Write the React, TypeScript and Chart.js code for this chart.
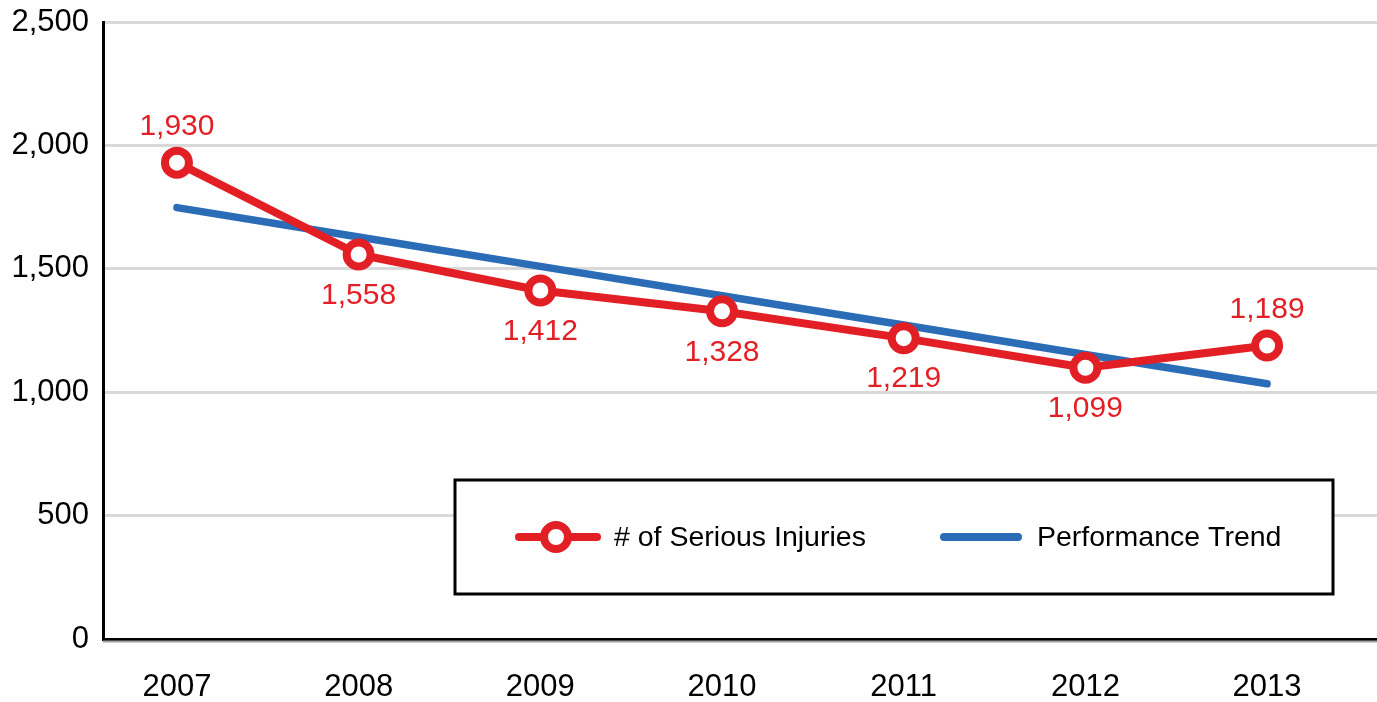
import React, { useEffect, useRef } from "react";
import { Chart, registerables } from "chart.js";

Chart.register(...registerables);

const years = ["2007", "2008", "2009", "2010", "2011", "2012", "2013"];
const injuries = [1930, 1558, 1412, 1328, 1219, 1099, 1189];
const trend = [1748, 1629, 1510, 1391, 1272, 1153, 1034];
const seriesNames = ["# of Serious Injuries", "Performance Trend"];

const RED = "#e31f26";
const BLUE = "#2a6cb6";
const FONT = "'Liberation Sans', Arial, Helvetica, sans-serif";
const AXIS_FS = 31;
const LABEL_FS = 30;
const LEGEND_FS = 28.5;

const valueLabels = {
  id: "valueLabels",
  afterDatasetsDraw(chart: any) {
    const ctx = chart.ctx;
    const meta = chart.getDatasetMeta(0);
    ctx.save();
    ctx.font = `${LABEL_FS}px ${FONT}`;
    ctx.fillStyle = RED;
    ctx.textAlign = "center";
    ctx.textBaseline = "middle";
    meta.data.forEach((pt: any, i: number) => {
      const above = injuries[i] > trend[i];
      const y = above ? pt.y - 36 : pt.y + 41;
      ctx.fillText(injuries[i].toLocaleString("en-US"), pt.x, y);
    });
    ctx.restore();
  },
};

const boxLegend = {
  id: "boxLegend",
  afterDraw(chart: any) {
    const ctx = chart.ctx;
    const a = chart.chartArea;
    ctx.save();
    // bottom axis shadow
    ctx.strokeStyle = "#a0a0a0";
    ctx.lineWidth = 2;
    ctx.beginPath();
    ctx.moveTo(a.left, a.bottom + 2.5);
    ctx.lineTo(a.right, a.bottom + 2.5);
    ctx.stroke();

    const left = a.left + 352;
    const top = a.top + 458;
    const right = a.right - 44;
    const bottom = a.top + 572;
    ctx.fillStyle = "#ffffff";
    ctx.fillRect(left, top, right - left, bottom - top);
    ctx.strokeStyle = "#000000";
    ctx.lineWidth = 3;
    ctx.strokeRect(left, top, right - left, bottom - top);

    const cy = (top + bottom) / 2;
    ctx.lineCap = "round";
    // red item
    ctx.strokeStyle = RED;
    ctx.lineWidth = 8;
    ctx.beginPath();
    ctx.moveTo(left + 64, cy);
    ctx.lineTo(left + 142, cy);
    ctx.stroke();
    ctx.beginPath();
    ctx.arc(left + 101, cy, 12, 0, Math.PI * 2);
    ctx.fillStyle = "#ffffff";
    ctx.fill();
    ctx.stroke();
    // blue item
    ctx.strokeStyle = BLUE;
    ctx.beginPath();
    ctx.moveTo(left + 489, cy);
    ctx.lineTo(left + 563, cy);
    ctx.stroke();

    ctx.fillStyle = "#000000";
    ctx.font = `${LEGEND_FS}px ${FONT}`;
    ctx.textAlign = "left";
    ctx.textBaseline = "middle";
    ctx.fillText(seriesNames[0], left + 159, cy + 1);
    ctx.fillText(seriesNames[1], left + 582, cy + 1);
    ctx.restore();
  },
};

export default function App() {
  const ref = useRef<HTMLCanvasElement>(null);
  useEffect(() => {
    if (!ref.current) return;
    const chart = new Chart(ref.current, {
      type: "line",
      data: {
        datasets: [
          {
            label: seriesNames[0],
            data: injuries.map((v, i) => ({ x: i, y: v })),
            borderColor: RED,
            borderWidth: 8,
            pointRadius: 12,
            pointBorderWidth: 8,
            pointBackgroundColor: "#ffffff",
            pointBorderColor: RED,
            borderCapStyle: "round",
            borderJoinStyle: "round",
            tension: 0,
          },
          {
            label: seriesNames[1],
            data: trend.map((v, i) => ({ x: i, y: v })),
            borderColor: BLUE,
            borderWidth: 7.5,
            pointRadius: 0,
            borderCapStyle: "round",
            tension: 0,
          },
        ],
      },
      options: {
        responsive: false,
        animation: false,
        devicePixelRatio: 1,
        layout: { autoPadding: false, padding: { top: 22, right: 0, left: 0, bottom: 0 } },
        plugins: { legend: { display: false }, tooltip: { enabled: false } },
        scales: {
          x: {
            type: "linear",
            min: -0.407,
            max: 6.605,
            afterBuildTicks: (s: any) => {
              s.ticks = years.map((_, i) => ({ value: i }));
            },
            afterFit: (s: any) => {
              s.height = 63;
              s.paddingLeft = 0;
              s.paddingRight = 0;
              s.paddingTop = 0;
              s.paddingBottom = 0;
            },
            grid: { display: false, drawTicks: false },
            border: { display: true, color: "#000000", width: 3 },
            ticks: {
              autoSkip: false,
              maxRotation: 0,
              padding: 30,
              color: "#000000",
              font: { family: FONT, size: AXIS_FS },
              callback: (v: any) => years[v as number],
            },
          },
          y: {
            min: 0,
            max: 2500,
            afterFit: (s: any) => {
              s.width = 103;
              s.paddingLeft = 0;
              s.paddingRight = 0;
              s.paddingTop = 0;
              s.paddingBottom = 0;
            },
            grid: {
              drawTicks: false,
              lineWidth: 3,
              color: (c: any) => (c.tick && c.tick.value === 0 ? "rgba(0,0,0,0)" : "#d9d9d9"),
            },
            border: { display: true, color: "#000000", width: 3 },
            ticks: {
              stepSize: 500,
              padding: 14,
              color: "#000000",
              font: { family: FONT, size: AXIS_FS },
              callback: (v: any) => Number(v).toLocaleString("en-US"),
            },
          },
        },
      },
      plugins: [valueLabels, boxLegend],
    } as any);
    return () => chart.destroy();
  }, []);
  return (
    <canvas
      ref={ref}
      width={1377}
      height={702}
      style={{ position: "fixed", left: 0, top: 0, width: 1377, height: 702, background: "#fff" }}
    />
  );
}
